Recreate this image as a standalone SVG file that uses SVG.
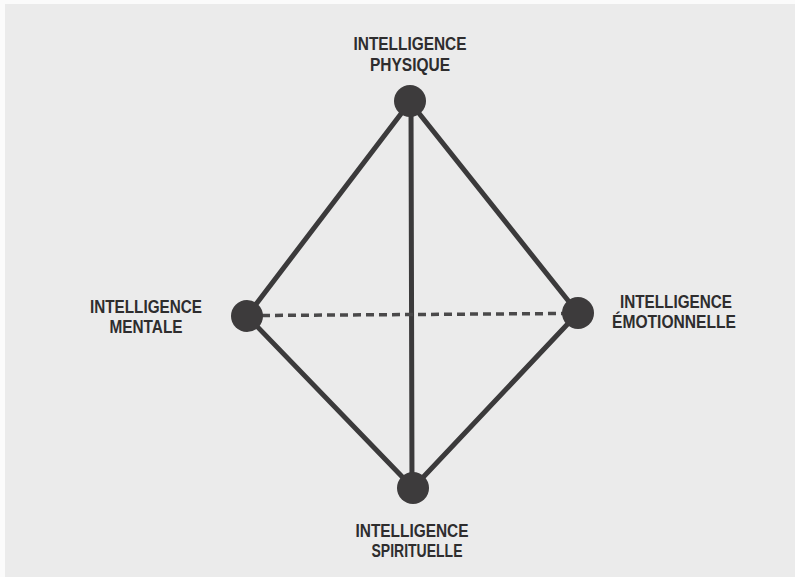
<svg xmlns="http://www.w3.org/2000/svg" width="795" height="577" viewBox="0 0 795 577">
  <style>
    .edge { stroke: #3b3a3b; stroke-width: 5; stroke-linecap: round; fill: none; }
    .dash { stroke: #4a494a; stroke-width: 3.5; stroke-dasharray: 8 5; fill: none; }
    .node { fill: #3d3b3c; }
    .lbl { font-family: "Liberation Sans", Arial, sans-serif; font-weight: bold; font-size: 18px; fill: #2e2d2e; text-anchor: middle; }
  </style>
  <rect x="0" y="0" width="795" height="577" fill="#fbfbfb"/>
  <rect x="5" y="4" width="790" height="573" fill="#ebebeb"/>
  <g id="connectors">
    <line class="edge" x1="410" y1="102" x2="247" y2="316"/>
    <line class="edge" x1="410" y1="102" x2="578" y2="313"/>
    <line class="edge" x1="247" y1="316" x2="413" y2="488"/>
    <line class="edge" x1="578" y1="313" x2="413" y2="488"/>
    <line class="edge" x1="411" y1="102" x2="412" y2="488"/>
    <line class="dash" x1="262" y1="315.5" x2="563" y2="313.5"/>
  </g>
  <g id="physique">
    <circle class="node" cx="410" cy="101" r="16"/>
    <text class="lbl" x="410" y="50" textLength="113" lengthAdjust="spacingAndGlyphs">INTELLIGENCE</text>
    <text class="lbl" x="410" y="71" textLength="80" lengthAdjust="spacingAndGlyphs">PHYSIQUE</text>
  </g>
  <g id="mentale">
    <circle class="node" cx="247" cy="316" r="16"/>
    <text class="lbl" x="146" y="313" textLength="112" lengthAdjust="spacingAndGlyphs">INTELLIGENCE</text>
    <text class="lbl" x="146" y="333" textLength="73" lengthAdjust="spacingAndGlyphs">MENTALE</text>
  </g>
  <g id="emotionnelle">
    <circle class="node" cx="578" cy="313" r="16"/>
    <text class="lbl" x="676" y="308" textLength="112" lengthAdjust="spacingAndGlyphs">INTELLIGENCE</text>
    <text class="lbl" x="674" y="328" textLength="124" lengthAdjust="spacingAndGlyphs">ÉMOTIONNELLE</text>
  </g>
  <g id="spirituelle">
    <circle class="node" cx="413" cy="488" r="16"/>
    <text class="lbl" x="412" y="537" textLength="113" lengthAdjust="spacingAndGlyphs">INTELLIGENCE</text>
    <text class="lbl" x="417" y="557" textLength="91" lengthAdjust="spacingAndGlyphs">SPIRITUELLE</text>
  </g>
</svg>
